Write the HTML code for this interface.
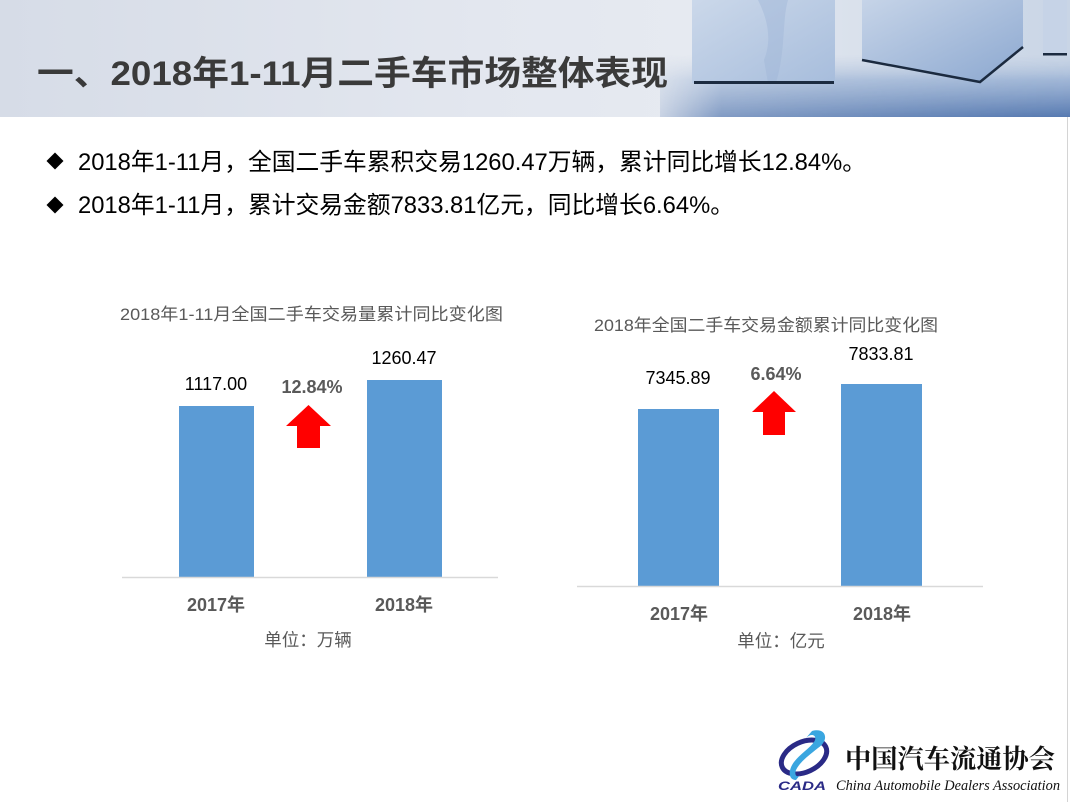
<!DOCTYPE html>
<html><head><meta charset="utf-8">
<style>
html,body{margin:0;padding:0;background:#fff;}
body{width:1070px;height:802px;overflow:hidden;position:relative;font-family:"Liberation Sans","Noto Sans CJK SC",sans-serif;}
svg{position:absolute;left:0;top:0;}
</style></head>
<body>
<svg width="1070" height="802" viewBox="0 0 1070 802" xmlns="http://www.w3.org/2000/svg">
<defs>
<linearGradient id="hdr" x1="0" y1="0" x2="1" y2="0">
<stop offset="0" stop-color="#d6dce7"/>
<stop offset="0.45" stop-color="#e3e7ef"/>
<stop offset="0.65" stop-color="#e6eaf1"/>
<stop offset="1" stop-color="#c9d5e6"/>
</linearGradient>
<linearGradient id="floor" x1="0" y1="0" x2="0" y2="1">
<stop offset="0" stop-color="#b9c9df" stop-opacity="0"/>
<stop offset="0.4" stop-color="#95aed2" stop-opacity="0.8"/>
<stop offset="1" stop-color="#5679b0" stop-opacity="1"/>
</linearGradient>
<linearGradient id="floorH" x1="0" y1="0" x2="1" y2="0">
<stop offset="0" stop-color="#fff" stop-opacity="0.2"/>
<stop offset="0.15" stop-color="#fff" stop-opacity="0.7"/>
<stop offset="1" stop-color="#fff" stop-opacity="1"/>
</linearGradient>
<mask id="fm"><rect x="660" y="0" width="410" height="117" fill="url(#floorH)"/></mask>
<linearGradient id="c1" x1="0" y1="0" x2="1" y2="1">
<stop offset="0" stop-color="#cbd8ea"/>
<stop offset="1" stop-color="#a7bddc"/>
</linearGradient>
<linearGradient id="c2" x1="0" y1="0" x2="1" y2="1">
<stop offset="0" stop-color="#c6d4e8"/>
<stop offset="1" stop-color="#8ca8d0"/>
</linearGradient>
</defs>

<!-- header -->
<rect x="0" y="0" width="1070" height="117" fill="url(#hdr)"/>
<rect x="660" y="55" width="410" height="62" fill="url(#floor)" mask="url(#fm)"/>
<!-- cube 1 -->
<rect x="692" y="0" width="143" height="83" fill="url(#c1)"/>
<path d="M758 0 C768 20 772 40 764 60 L768 83 L776 83 C786 50 782 20 788 0 Z" fill="#9fb6d7" opacity="0.45"/>
<rect x="694" y="81" width="140" height="3" fill="#1c2b40"/>
<!-- cube 2 -->
<polygon points="862,0 1023,0 1023,47 980,82 862,60" fill="url(#c2)"/>
<polyline points="862,60 980,82 1023,47" fill="none" stroke="#1b2a3f" stroke-width="2.5"/>
<!-- cube 3 -->
<rect x="1043" y="0" width="24" height="55" fill="#c6d3e7"/>
<rect x="1043" y="53" width="24" height="2.5" fill="#1c2b40"/>

<text x="37" y="85" font-family="'Liberation Sans','Noto Sans CJK SC',sans-serif" font-weight="bold" font-size="34" fill="#3a3a3a" textLength="631" lengthAdjust="spacingAndGlyphs">一、2018年1-11月二手车市场整体表现</text>

<!-- right divider -->
<line x1="1067.5" y1="117" x2="1067.5" y2="802" stroke="#d4d4d4" stroke-width="1"/>

<!-- bullets -->
<rect x="49" y="155" width="12" height="12" fill="#000" transform="rotate(45 55 161)"/>
<rect x="49" y="199" width="12" height="12" fill="#000" transform="rotate(45 55 205)"/>
<text x="78" y="170" font-size="24" fill="#000" textLength="788" lengthAdjust="spacingAndGlyphs">2018年1-11月，全国二手车累积交易1260.47万辆，累计同比增长12.84%。</text>
<text x="78" y="213" font-size="24" fill="#000" textLength="656" lengthAdjust="spacingAndGlyphs">2018年1-11月，累计交易金额7833.81亿元，同比增长6.64%。</text>

<!-- chart 1 -->
<text x="120" y="320" font-size="17" fill="#595959" textLength="383" lengthAdjust="spacingAndGlyphs">2018年1-11月全国二手车交易量累计同比变化图</text>
<rect x="179" y="406" width="75" height="171" fill="#5b9bd5"/>
<rect x="367" y="380" width="75" height="197" fill="#5b9bd5"/>
<line x1="122" y1="577.5" x2="498" y2="577.5" stroke="#d9d9d9" stroke-width="1.5"/>
<text x="216" y="390" font-size="18" fill="#000" text-anchor="middle">1117.00</text>
<text x="404" y="364" font-size="18" fill="#000" text-anchor="middle">1260.47</text>
<text x="312" y="393" font-size="18" font-weight="bold" fill="#595959" text-anchor="middle">12.84%</text>
<polygon points="308.5,405 331,426 320,426 320,448 297,448 297,426 286,426" fill="#ff0000"/>
<text x="216" y="611" font-size="18" font-weight="bold" fill="#595959" text-anchor="middle">2017年</text>
<text x="404" y="611" font-size="18" font-weight="bold" fill="#595959" text-anchor="middle">2018年</text>
<text x="308" y="646" font-size="17.5" fill="#595959" text-anchor="middle">单位：万辆</text>

<!-- chart 2 -->
<text x="594" y="331" font-size="17" fill="#595959" textLength="344" lengthAdjust="spacingAndGlyphs">2018年全国二手车交易金额累计同比变化图</text>
<rect x="638" y="409" width="81" height="177" fill="#5b9bd5"/>
<rect x="841" y="384" width="81" height="202" fill="#5b9bd5"/>
<line x1="577" y1="586.5" x2="983" y2="586.5" stroke="#d9d9d9" stroke-width="1.5"/>
<text x="678" y="384" font-size="18" fill="#000" text-anchor="middle">7345.89</text>
<text x="881" y="360" font-size="18" fill="#000" text-anchor="middle">7833.81</text>
<text x="776" y="380" font-size="18" font-weight="bold" fill="#595959" text-anchor="middle">6.64%</text>
<polygon points="774,391 796,412 785,412 785,435 763,435 763,412 752,412" fill="#ff0000"/>
<text x="679" y="620" font-size="18" font-weight="bold" fill="#595959" text-anchor="middle">2017年</text>
<text x="882" y="620" font-size="18" font-weight="bold" fill="#595959" text-anchor="middle">2018年</text>
<text x="781" y="647" font-size="17.5" fill="#595959" text-anchor="middle">单位：亿元</text>

<!-- logo -->
<ellipse cx="804" cy="757" rx="24" ry="15" fill="none" stroke="#2a2a86" stroke-width="5" transform="rotate(-25 804 757)"/>
<path d="M812 731 C826 727 830 740 818 748 C808 756 800 762 796 770 C794 775 797 778 800 775 L796 780 C788 780 788 770 794 762 C800 754 810 748 814 742 C818 736 812 732 806 738 Z" fill="#3aa6e0"/>
<text x="778" y="790" font-size="12" font-weight="bold" font-style="italic" fill="#2a2a86" textLength="48" lengthAdjust="spacingAndGlyphs">CADA</text>
<text x="845" y="768" font-family="'Noto Serif CJK SC','Noto Sans CJK SC',serif" font-weight="bold" font-size="26" fill="#111" textLength="210" lengthAdjust="spacingAndGlyphs">中国汽车流通协会</text>
<text x="836" y="790" font-family="'Liberation Serif',serif" font-style="italic" font-size="15" fill="#111" textLength="224" lengthAdjust="spacingAndGlyphs">China Automobile Dealers Association</text>
</svg>
</body></html>
